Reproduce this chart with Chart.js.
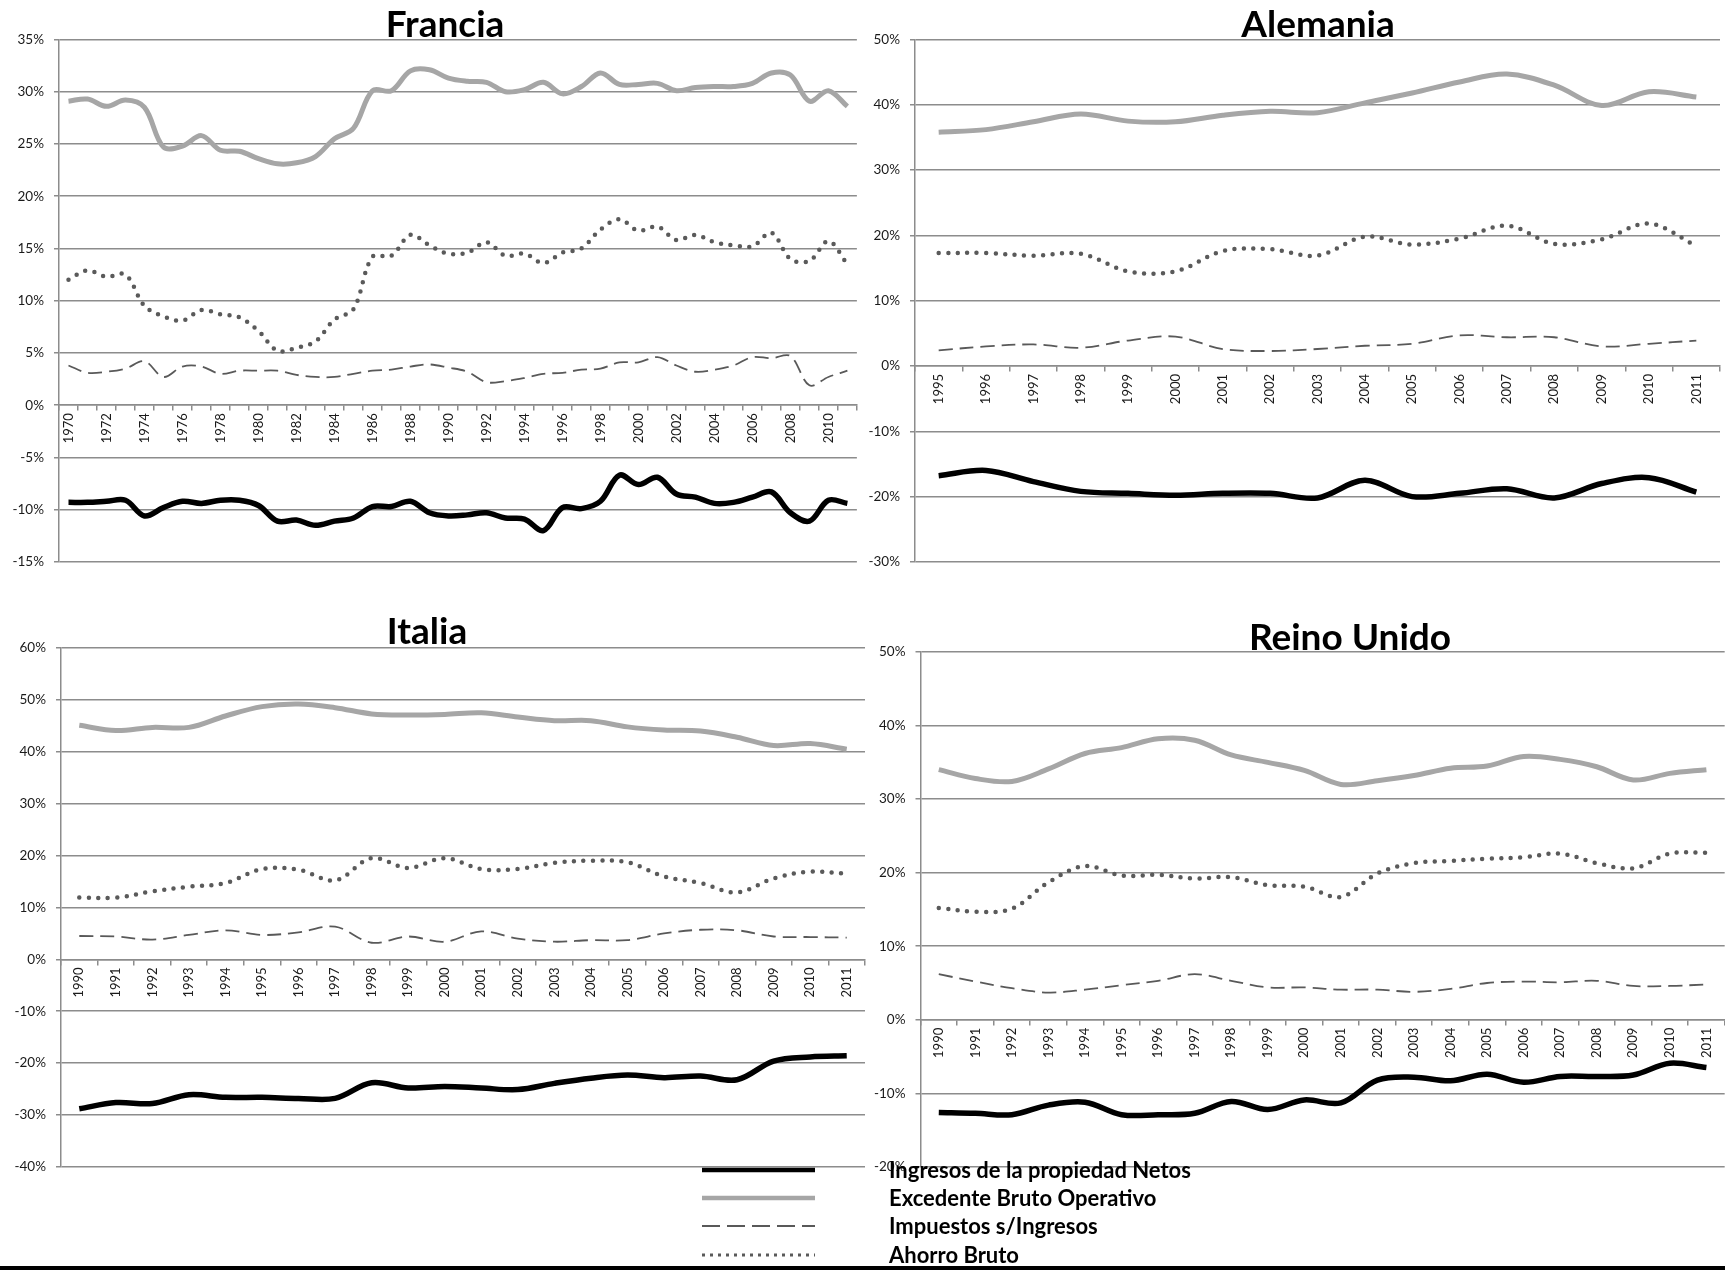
<!DOCTYPE html>
<html>
<head>
<meta charset="utf-8">
<title>Francia, Alemania, Italia, Reino Unido</title>
<script src="https://cdn.jsdelivr.net/npm/chart.js"></script>
<style>
  body { margin: 0; background: #fff; }
  .page { position: relative; width: 1725px; height: 1270px; overflow: hidden; background: #fff; }
  .panel { position: absolute; }
  .panel canvas { display: block; }
  .white { background: #fff; }
  .title {
    position: absolute;
    font: bold 37px Lato, "Open Sans", sans-serif;
    line-height: 1;
    transform: translate(-50%, -50%);
    white-space: nowrap;
    color: #000;
  }
  .legend { position: absolute; left: 702px; top: 1156px; }
  .legend .row { position: absolute; left: 0; height: 28px; white-space: nowrap; }
  .legend svg { position: absolute; left: 0; top: 9px; }
  .legend span {
    position: absolute; left: 187px; top: 0px;
    font: bold 22px Lato, "Open Sans", sans-serif; color: #000;
  }
  .bar { position: absolute; left: 0; top: 1266px; width: 1725px; height: 4px; background: #000; }
</style>
</head>
<body>
<div class="page">
  <div class="panel" style="left:0px; top:0px;"><canvas id="cFR" width="866" height="580"></canvas></div>
  <div class="panel white" style="left:858px; top:0px;"><canvas id="cDE" width="867" height="580"></canvas></div>
  <div class="panel" style="left:0px; top:600px;"><canvas id="cIT" width="866" height="585"></canvas></div>
  <div class="panel" style="left:858px; top:600px;"><canvas id="cUK" width="867" height="585"></canvas></div>

  <div class="title" style="left:445px; top:22px;">Francia</div>
  <div class="title" style="left:1318px; top:22px;">Alemania</div>
  <div class="title" style="left:427px; top:629px;">Italia</div>
  <div class="title" style="left:1350px; top:635px;">Reino Unido</div>

  <div class="legend" id="legend"></div>
  <div class="bar"></div>
</div>

<script>
// series names (same four in every panel)
const seriesNames = ['Ingresos de la propiedad Netos', 'Excedente Bruto Operativo', 'Impuestos s/Ingresos', 'Ahorro Bruto'];

// Francia 1970-2011 (%)
const yearsFR = [1970, 1971, 1972, 1973, 1974, 1975, 1976, 1977, 1978, 1979,
                 1980, 1981, 1982, 1983, 1984, 1985, 1986, 1987, 1988, 1989,
                 1990, 1991, 1992, 1993, 1994, 1995, 1996, 1997, 1998, 1999,
                 2000, 2001, 2002, 2003, 2004, 2005, 2006, 2007, 2008, 2009, 2010, 2011];
const ingresosFR  = [-9.3, -9.3, -9.2, -9.1, -10.6, -9.8, -9.2, -9.4, -9.1, -9.1,
                     -9.6, -11.1, -11.0, -11.5, -11.1, -10.8, -9.7, -9.7, -9.2, -10.3,
                     -10.6, -10.5, -10.3, -10.8, -10.9, -12.0, -9.8, -9.9, -9.2, -6.7,
                     -7.6, -6.9, -8.5, -8.8, -9.4, -9.3, -8.8, -8.3, -10.3, -11.1, -9.1, -9.4];
const excedenteFR = [29.1, 29.3, 28.6, 29.2, 28.5, 24.7, 24.8, 25.8, 24.4, 24.3,
                     23.6, 23.1, 23.2, 23.8, 25.5, 26.5, 30.1, 30.1, 32.0, 32.1,
                     31.3, 31.0, 30.9, 30.0, 30.2, 30.9, 29.8, 30.5, 31.8, 30.7,
                     30.7, 30.8, 30.1, 30.4, 30.5, 30.5, 30.8, 31.8, 31.6, 29.1, 30.1, 28.6];
const impuestosFR = [3.8, 3.1, 3.2, 3.5, 4.2, 2.7, 3.7, 3.7, 3.0, 3.3,
                     3.3, 3.3, 2.9, 2.7, 2.7, 3.0, 3.3, 3.4, 3.7, 3.9,
                     3.6, 3.2, 2.2, 2.3, 2.6, 3.0, 3.1, 3.4, 3.5, 4.1,
                     4.1, 4.6, 3.8, 3.2, 3.4, 3.8, 4.6, 4.5, 4.7, 1.9, 2.7, 3.3];
const ahorroFR    = [12.0, 12.9, 12.3, 12.5, 9.5, 8.5, 8.1, 9.1, 8.7, 8.4,
                     7.1, 5.2, 5.5, 6.1, 8.2, 9.2, 14.2, 14.3, 16.3, 15.3,
                     14.5, 14.6, 15.6, 14.3, 14.5, 13.6, 14.6, 15.0, 16.8, 17.8,
                     16.7, 17.1, 15.8, 16.3, 15.6, 15.3, 15.2, 16.5, 14.0, 13.8, 15.7, 13.5];

// Alemania 1995-2011 (%)
const yearsDE = [1995, 1996, 1997, 1998, 1999, 2000, 2001, 2002, 2003, 2004, 2005, 2006, 2007, 2008, 2009, 2010, 2011];
const ingresosDE  = [-16.8, -16.0, -17.7, -19.2, -19.5, -19.8, -19.5, -19.5, -20.2, -17.5, -20.0, -19.5, -18.8, -20.2, -18.0, -17.1, -19.3];
const excedenteDE = [35.8, 36.2, 37.4, 38.6, 37.5, 37.4, 38.4, 39.0, 38.8, 40.3, 41.8, 43.5, 44.7, 43.0, 39.9, 42.0, 41.2];
const impuestosDE = [2.4, 3.0, 3.3, 2.8, 3.9, 4.5, 2.6, 2.3, 2.6, 3.1, 3.4, 4.7, 4.4, 4.4, 3.0, 3.4, 3.9];
const ahorroDE    = [17.3, 17.3, 16.9, 17.2, 14.5, 14.5, 17.6, 17.9, 16.9, 19.8, 18.6, 19.5, 21.5, 18.7, 19.4, 21.8, 18.4];

// Italia 1990-2011 (%)
const yearsIT = [1990, 1991, 1992, 1993, 1994, 1995, 1996, 1997, 1998, 1999, 2000,
                 2001, 2002, 2003, 2004, 2005, 2006, 2007, 2008, 2009, 2010, 2011];
const ingresosIT  = [-28.8, -27.6, -27.8, -26.1, -26.6, -26.6, -26.8, -26.8, -23.8, -24.8, -24.5,
                     -24.8, -25.1, -23.9, -22.9, -22.3, -22.8, -22.5, -23.2, -19.6, -18.8, -18.6];
const excedenteIT = [45.1, 44.1, 44.7, 44.7, 46.9, 48.7, 49.2, 48.5, 47.3, 47.1, 47.2,
                     47.5, 46.7, 46.0, 46.0, 44.8, 44.2, 44.0, 42.8, 41.2, 41.6, 40.5];
const impuestosIT = [4.5, 4.4, 3.8, 4.7, 5.6, 4.7, 5.2, 6.3, 3.2, 4.4, 3.4,
                     5.4, 4.0, 3.4, 3.7, 3.7, 5.0, 5.7, 5.6, 4.4, 4.3, 4.2];
const ahorroIT    = [11.9, 11.9, 13.1, 14.0, 14.7, 17.4, 17.3, 15.2, 19.5, 17.6, 19.5,
                     17.4, 17.4, 18.6, 19.0, 18.7, 16.0, 14.7, 12.9, 15.6, 16.9, 16.5];

// Reino Unido 1990-2011 (%)
const yearsUK = [1990, 1991, 1992, 1993, 1994, 1995, 1996, 1997, 1998, 1999, 2000,
                 2001, 2002, 2003, 2004, 2005, 2006, 2007, 2008, 2009, 2010, 2011];
const ingresosUK  = [-12.6, -12.7, -12.9, -11.6, -11.2, -12.9, -12.9, -12.7, -11.1, -12.2, -10.9,
                     -11.3, -8.2, -7.8, -8.3, -7.4, -8.5, -7.7, -7.7, -7.5, -5.9, -6.5];
const excedenteUK = [34.0, 32.8, 32.4, 34.1, 36.2, 37.0, 38.2, 38.0, 36.0, 35.0, 33.9,
                     32.0, 32.5, 33.2, 34.2, 34.5, 35.8, 35.4, 34.4, 32.6, 33.5, 34.0];
const impuestosUK = [6.2, 5.2, 4.3, 3.7, 4.1, 4.7, 5.3, 6.2, 5.3, 4.4, 4.4,
                     4.1, 4.1, 3.8, 4.2, 5.0, 5.2, 5.1, 5.3, 4.6, 4.6, 4.8];
const ahorroUK    = [15.2, 14.7, 15.1, 18.7, 20.9, 19.6, 19.7, 19.2, 19.4, 18.3, 18.1,
                     16.7, 19.9, 21.3, 21.6, 21.9, 22.1, 22.6, 21.3, 20.6, 22.6, 22.7];

// y axis ranges [min, max, step]
const yAxisFR = [-15, 35, 5];
const yAxisDE = [-30, 50, 10];
const yAxisIT = [-40, 60, 10];
const yAxisUK = [-20, 50, 10];

// line look for each series
const lineStyles = [
  { borderColor: '#000000', borderWidth: 5.5 },
  { borderColor: '#a6a6a6', borderWidth: 5 },
  { borderColor: '#595959', borderWidth: 1.8, borderDash: [14, 7] },
  { borderColor: '#5a5a5a', borderWidth: 4.5, borderDash: [0, 9.5], borderCapStyle: 'round' }
];

const gridColor = '#8c8c8c';
const tickFont = 'Lato, "Open Sans", sans-serif';

function drawPanel(canvasId, years, series, yAxis, labelStep, axisWidth, pad) {
  const ctx = document.getElementById(canvasId).getContext('2d');
  new Chart(ctx, {
    type: 'line',
    data: {
      labels: years.map(String),
      datasets: series.map((vals, i) => Object.assign({
        label: seriesNames[i],
        data: vals,
        pointRadius: 0,
        tension: 0.35,
        fill: false
      }, lineStyles[i]))
    },
    options: {
      responsive: false,
      animation: false,
      layout: { padding: pad },
      plugins: {
        legend: { display: false },
        tooltip: { enabled: false }
      },
      scales: {
        x: {
          position: { y: 0 },
          offset: true,
          grid: { drawOnChartArea: false, offset: true, tickLength: 5, color: gridColor, lineWidth: 1.5 },
          border: { color: gridColor, width: 1.5 },
          ticks: {
            autoSkip: false,
            minRotation: 90,
            maxRotation: 90,
            padding: 3,
            color: '#1a1a1a',
            font: { family: tickFont, size: 13 },
            callback: (v, i) => (i % labelStep === 0 ? String(years[i]) : '')
          },
          afterFit: s => { s.height = 0; }
        },
        y: {
          min: yAxis[0],
          max: yAxis[1],
          grid: { color: gridColor, lineWidth: 1.5, tickLength: 5 },
          border: { color: gridColor, width: 1.5 },
          ticks: {
            stepSize: yAxis[2],
            padding: 10,
            color: '#1a1a1a',
            font: { family: tickFont, size: 13.5 },
            callback: v => v + '%'
          },
          afterFit: s => { s.width = axisWidth; }
        }
      }
    }
  });
}

drawPanel('cFR', yearsFR, [ingresosFR, excedenteFR, impuestosFR, ahorroFR], yAxisFR, 2, 59,
          { top: 39.5, right: 1, bottom: 14, left: 0 });
drawPanel('cDE', yearsDE, [ingresosDE, excedenteDE, impuestosDE, ahorroDE], yAxisDE, 1, 57,
          { top: 39.5, right: 5, bottom: 14, left: 0 });
drawPanel('cIT', yearsIT, [ingresosIT, excedenteIT, impuestosIT, ahorroIT], yAxisIT, 1, 61,
          { top: 48, right: 1, bottom: 12.5, left: 0 });
drawPanel('cUK', yearsUK, [ingresosUK, excedenteUK, impuestosUK, ahorroUK], yAxisUK, 1, 62.5,
          { top: 52, right: 0, bottom: 9, left: 0 });

// shared legend below the charts
const legendBox = document.getElementById('legend');
seriesNames.forEach((name, i) => {
  const st = lineStyles[i];
  const row = document.createElement('div');
  row.className = 'row';
  row.style.top = (i * 28.2) + 'px';
  const dash = i === 2 ? '18 7' : (i === 3 ? '3 5' : 'none');
  const w = i === 3 ? 3 : Math.min(st.borderWidth, 4.5);
  row.innerHTML =
    '<svg width="113" height="10"><line x1="0" y1="5" x2="113" y2="5" stroke="' + st.borderColor +
    '" stroke-width="' + w + '" stroke-dasharray="' + dash + '"/></svg>' +
    '<span>' + name + '</span>';
  legendBox.appendChild(row);
});
</script>
</body>
</html>
